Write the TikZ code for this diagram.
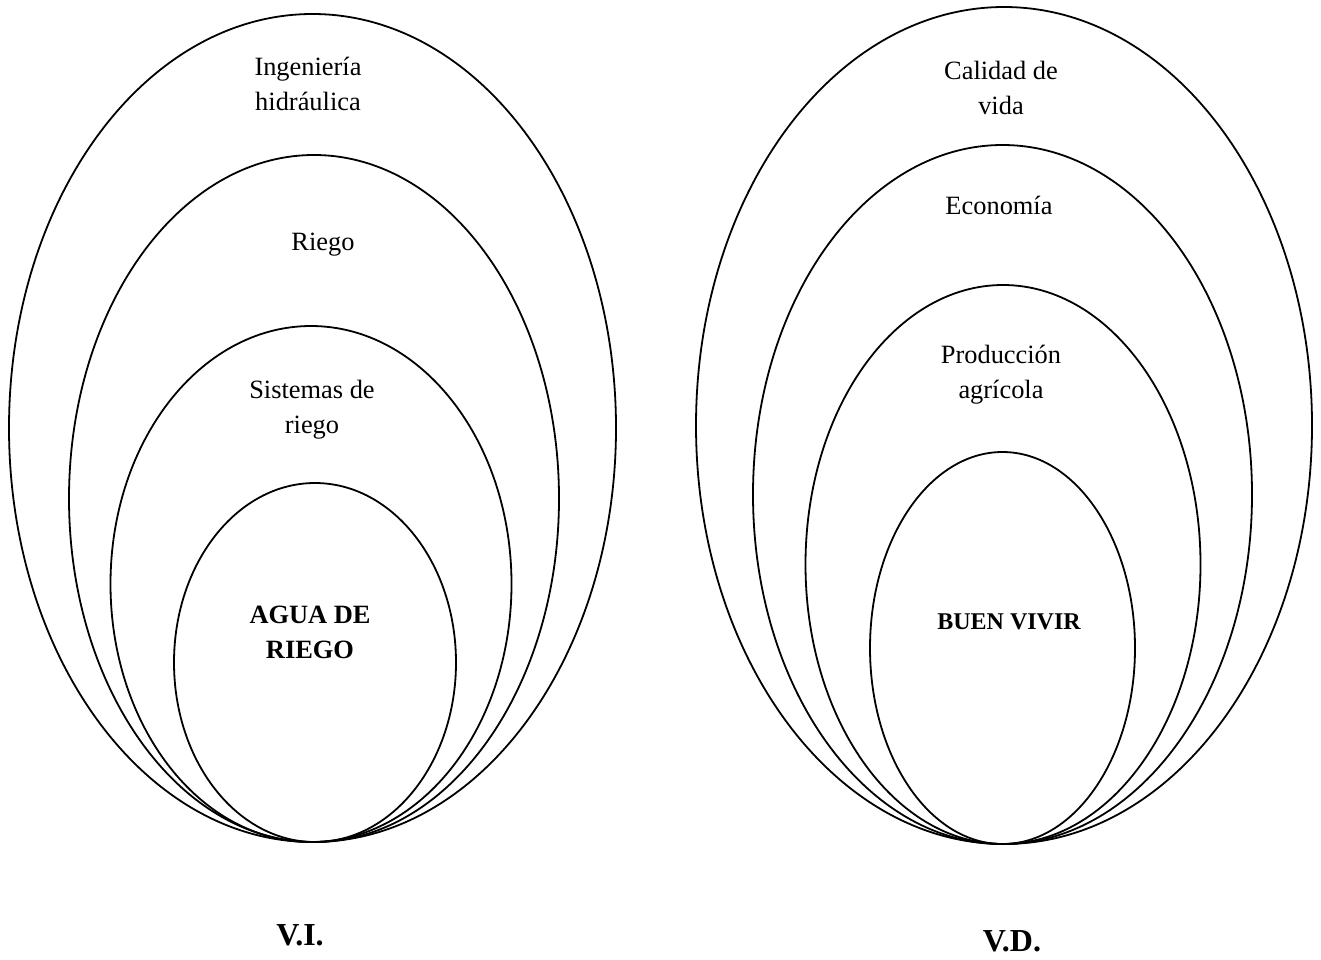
\documentclass[tikz,border=0pt]{standalone}
\usepackage{fontspec}
\setmainfont{Liberation Serif}
\usepackage{xcolor}
\usepackage{tikz}
\usetikzlibrary{positioning}

\begin{document}
\begin{tikzpicture}[x=0.5pt, y=-0.5pt,
    ring/.style={draw=black, line width=0.9pt},
    lbl/.style={align=center, inner sep=0pt, font=\fontsize{13.2}{17.5}\selectfont},
    core/.style={lbl, font=\fontsize{13.2}{17.5}\selectfont\bfseries},
    tag/.style={inner sep=0pt, font=\fontsize{16}{19}\selectfont\bfseries}]
  \useasboundingbox (0,0) rectangle (1321,959);

  % independiente
  \draw[ring] (312.5,428) ellipse [x radius=303.5, y radius=414];
  \draw[ring] (314,498.5) ellipse [x radius=245, y radius=343.5];
  \draw[ring] (311,584) ellipse [x radius=200.5, y radius=258];
  \draw[ring] (315,662.5) ellipse [x radius=141, y radius=179.5];

  \node[lbl] (ingenieria) at (308,84) {Ingeniería\\hidráulica};
  \node[lbl] (riego) at (323,245) {Riego};
  \node[lbl] (sistemas) at (312,410) {Sistemas de\\riego};
  \node[core] (agua) at (310,632) {AGUA DE\\RIEGO};
  \node[tag] (vi) at (300,935) {V.I.};

  % dependiente
  \draw[ring] (1004,425.5) ellipse [x radius=308, y radius=418.5];
  \draw[ring] (1002.5,494.5) ellipse [x radius=249.5, y radius=349.5];
  \draw[ring] (1003,564.5) ellipse [x radius=197.5, y radius=279.5];
  \draw[ring] (1002.5,648) ellipse [x radius=132.5, y radius=196];

  \node[lbl] (calidad) at (1001,88) {Calidad de\\vida};
  \node[lbl] (economia) at (999,205) {Economía};
  \node[lbl] (produccion) at (1001,375) {Producción\\agrícola};
  \node[core, font=\fontsize{12}{15}\selectfont\bfseries] (buenvivir) at (1009,622) {BUEN VIVIR};
  \node[tag] (vd) at (1012,941) {V.D.};
\end{tikzpicture}
\end{document}
